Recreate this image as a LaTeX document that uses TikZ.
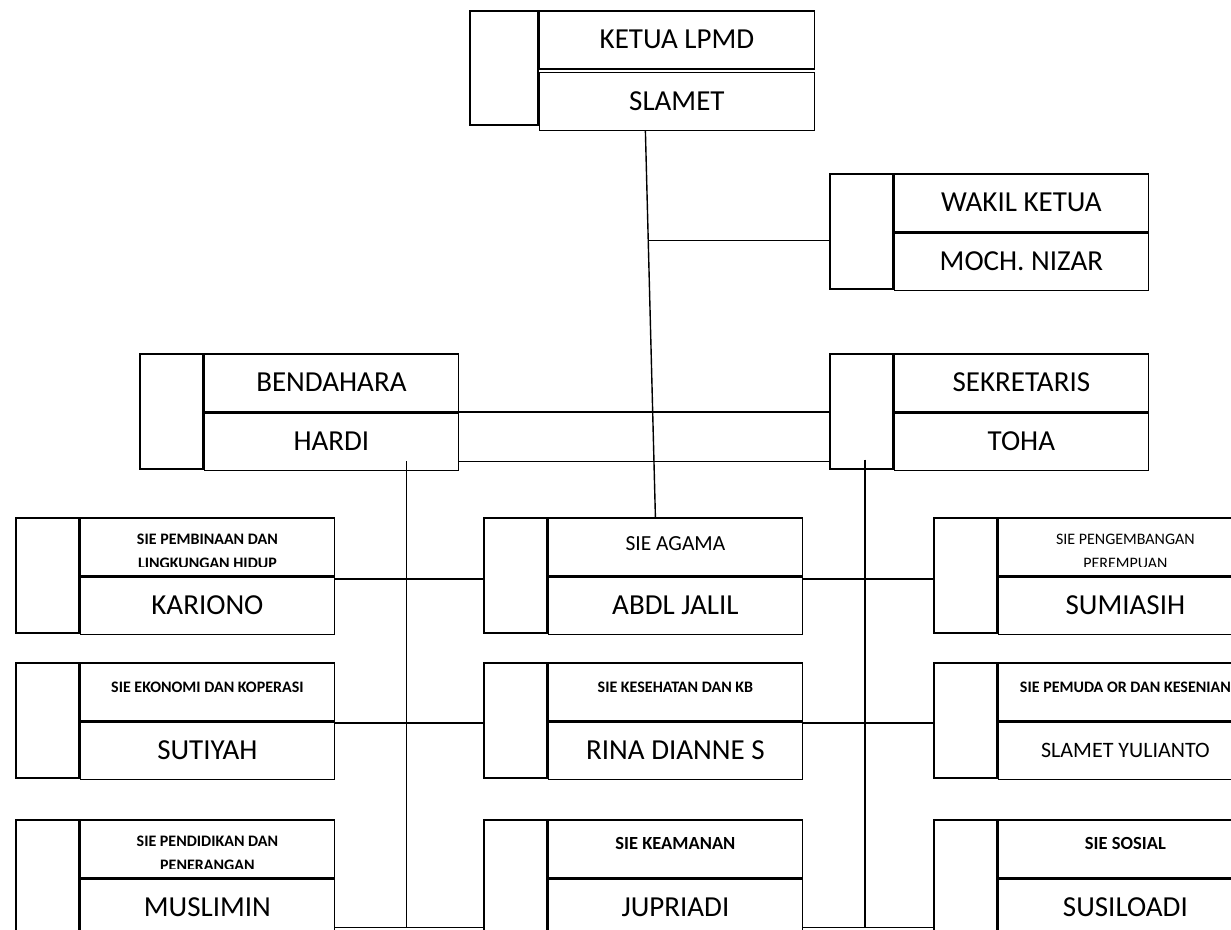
\documentclass[tikz,border=0pt]{standalone}
\usepackage{fontspec}
\setmainfont{Carlito}
\usetikzlibrary{calc}
\tikzset{
  sidecell/.style={draw, line width=1.6pt, anchor=north west, inner sep=0pt, minimum width=63pt, minimum height=115pt},
  cell/.style={draw, line width=1.6pt, anchor=north west, inner sep=0pt, minimum width=254pt, minimum height=57.5pt},
  link/.style={line width=1.4pt},
  bigname/.style={font=\fontsize{29}{35}\selectfont},
  midname/.style={font=\fontsize{22}{26}\selectfont},
  sieplain/.style={font=\fontsize{21.5}{24}\selectfont, text height=13.5pt, text depth=6pt},
  siebold/.style={font=\fontsize{16}{24}\selectfont\bfseries, text height=10.1pt, text depth=9pt},
  siebig/.style={font=\fontsize{18.5}{24}\selectfont\bfseries, text height=11.7pt, text depth=9pt},
  twoline/.style={align=center, yshift=-5pt},
}
% name, top-left corner, top style, top text, bottom style, bottom text
\newcommand{\orgbox}[6]{%
  \node[sidecell] (#1-l) at (#2) {};
  \node[cell,#3] (#1-t) at (#1-l.north east) {#4};
  \node[cell,#5] (#1-b) at (#1-t.south west) {#6};
}

\begin{document}
\begin{tikzpicture}[x=1pt,y=-1pt]
	\useasboundingbox (0,0) rectangle (1231,929);
	\clip (0,0) rectangle (1231,929);
	
	%KETUA
	\node[sidecell, minimum width=68pt, minimum height=114pt] (ketua-l) at (469,10) {};
	\node[cell, bigname, minimum width=275pt, minimum height=58pt] (ketua-t) at (ketua-l.north east) {KETUA LPMD};
	\node[cell, bigname, minimum width=275pt, minimum height=58pt] (ketua-b) at ([yshift=-2pt]ketua-t.south west) {SLAMET};
	%
	\orgbox{wakil}{829,173}{bigname}{WAKIL KETUA}{bigname}{MOCH. NIZAR}
	\orgbox{bend}{139,353}{bigname}{BENDAHARA}{bigname}{HARDI}
	\orgbox{sekr}{829,353}{bigname}{SEKRETARIS}{bigname}{TOHA}
	
	%SEKSI ROW 1
	\orgbox{karo}{15,517}{}{}{bigname}{KARIONO}
	\orgbox{agama}{483,517}{sieplain}{SIE AGAMA}{bigname}{ABDL JALIL}
	\orgbox{sumi}{933,517}{}{}{bigname}{SUMIASIH}
	\begin{scope}
		\clip (karo-t.north west) rectangle ([yshift=10pt]karo-t.south east);
		\node[twoline, font=\fontsize{16}{24}\selectfont\bfseries] (karo-h) at (karo-t) {SIE PEMBINAAN DAN\\LINGKUNGAN HIDUP};
	\end{scope}
	\begin{scope}
		\clip (sumi-t.north west) rectangle ([yshift=10pt]sumi-t.south east);
		\node[twoline, font=\fontsize{16}{24}\selectfont] (sumi-h) at (sumi-t) {SIE PENGEMBANGAN\\PEREMPUAN};
	\end{scope}
	
	%SEKSI ROW 2
	\orgbox{sutiyah}{15,662}{siebold}{SIE EKONOMI DAN KOPERASI}{bigname}{SUTIYAH}
	\orgbox{rina}{483,662}{siebold}{SIE KESEHATAN DAN KB}{bigname}{RINA DIANNE S}
	\orgbox{slamet}{933,662}{siebold}{SIE PEMUDA OR DAN KESENIAN}{midname}{SLAMET YULIANTO}
	
	%SEKSI ROW 3
	\orgbox{mus}{15,819}{}{}{bigname}{MUSLIMIN}
	\orgbox{jup}{483,819}{siebig}{SIE KEAMANAN}{bigname}{JUPRIADI}
	\orgbox{susilo}{933,819}{siebig}{SIE SOSIAL}{bigname}{SUSILOADI}
	\begin{scope}
		\clip (mus-t.north west) rectangle ([yshift=10pt]mus-t.south east);
		\node[twoline, font=\fontsize{16}{24}\selectfont\bfseries] (mus-h) at (mus-t) {SIE PENDIDIKAN DAN\\PENERANGAN};
	\end{scope}
	
	%MAIN LINE
	\coordinate (vtop) at ([xshift=-31.5pt]ketua-b.south);
	\coordinate (vbot) at ([xshift=-20pt]agama-t.north);
	\draw[link] (vtop)--(vbot);
	\coordinate (vw) at ($(vtop)!0.283!(vbot)$);
	\draw[link] (vw)--(vw -| wakil-l.west);
	
	%BENDAHARA - SEKRETARIS
	\draw[link] (bend-t.south east)--(bend-t.south east -| sekr-l.west);
	\coordinate (bl) at ([yshift=10pt]bend-b.south east);
	\draw[link] (bl)--(bl -| sekr-l.west);
	
	%DOWN LINES
	\coordinate (hv) at ([xshift=-53pt]bl);
	\coordinate (tv) at ([xshift=36pt,yshift=10pt]sekr-l.south west);
	\coordinate (r3) at ([yshift=10pt]mus-b.south east);
	\coordinate (r3b) at ([yshift=10pt]jup-b.south east);
	\draw[link] (hv)--(hv |- r3);
	\draw[link] (tv)--(tv |- r3);
	
	%ROW LINES
	\coordinate (r1) at ([yshift=-3pt]karo-t.south east);
	\coordinate (r1b) at ([yshift=-3pt]agama-t.south east);
	\draw[link] (r1)--(r1 -| agama-l.west);
	\draw[link] (r1b)--(r1b -| sumi-l.west);
	%
	\coordinate (r2) at ([yshift=-2pt]sutiyah-t.south east);
	\coordinate (r2b) at ([yshift=-2pt]rina-t.south east);
	\draw[link] (r2)--(r2 -| rina-l.west);
	\draw[link] (r2b)--(r2b -| slamet-l.west);
	%
	\draw[link] (r3)--(r3 -| jup-l.west);
	\draw[link] (r3b)--(r3b -| susilo-l.west);
\end{tikzpicture}
\end{document}
